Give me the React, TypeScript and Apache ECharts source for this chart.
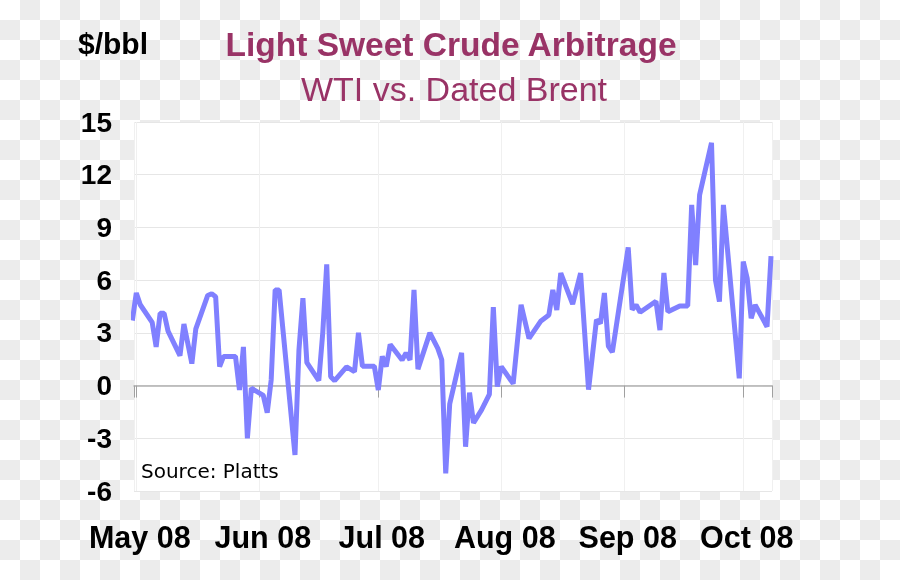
import React, { useEffect, useRef } from 'react';
import * as echarts from 'echarts';

// Trading dates (2008)
const dates: string[] = [
  '2008-04-30', '2008-05-01', '2008-05-02', '2008-05-05', '2008-05-06', '2008-05-07', '2008-05-08', '2008-05-09',
  '2008-05-12', '2008-05-13', '2008-05-15', '2008-05-16', '2008-05-19', '2008-05-20', '2008-05-21', '2008-05-22',
  '2008-05-23', '2008-05-26', '2008-05-27', '2008-05-28', '2008-05-29', '2008-05-30',
  '2008-06-02', '2008-06-03', '2008-06-04', '2008-06-05', '2008-06-06', '2008-06-10', '2008-06-11', '2008-06-12',
  '2008-06-13', '2008-06-16', '2008-06-17', '2008-06-18', '2008-06-19', '2008-06-20', '2008-06-23', '2008-06-25',
  '2008-06-26', '2008-06-27', '2008-06-30',
  '2008-07-01', '2008-07-02', '2008-07-03', '2008-07-04', '2008-07-07', '2008-07-08', '2008-07-09', '2008-07-10',
  '2008-07-11', '2008-07-14', '2008-07-16', '2008-07-17', '2008-07-18', '2008-07-19', '2008-07-22', '2008-07-23',
  '2008-07-24', '2008-07-25', '2008-07-27', '2008-07-29', '2008-07-30', '2008-07-31',
  '2008-08-01', '2008-08-04', '2008-08-06', '2008-08-08', '2008-08-11', '2008-08-13', '2008-08-14', '2008-08-15',
  '2008-08-16', '2008-08-19', '2008-08-21', '2008-08-23', '2008-08-25', '2008-08-26', '2008-08-27', '2008-08-28',
  '2008-08-29',
  '2008-09-02', '2008-09-03', '2008-09-04', '2008-09-05', '2008-09-09', '2008-09-10', '2008-09-11', '2008-09-12',
  '2008-09-15', '2008-09-17', '2008-09-18', '2008-09-19', '2008-09-20', '2008-09-23', '2008-09-24', '2008-09-25',
  '2008-09-26', '2008-09-30',
  '2008-10-01', '2008-10-02', '2008-10-03', '2008-10-04', '2008-10-07', '2008-10-08',
];

// WTI minus Dated Brent, $/bbl
const spread: number[] = [
  3.7, 5.27, 4.6, 3.6, 2.2, 4.12, 4.12, 3.1, 1.7, 3.5, 1.25, 3.23, 5.13, 5.23, 5.06, 1.08, 1.66, 1.66, -0.25, 2.2, -3.0, -0.15,
  -0.56, -1.54, 0.32, 5.44, 5.44, -3.95, 2.03, 4.97, 1.3, 0.28, 3.0, 6.9, 0.5, 0.28, 1.06, 0.79, 3.0, 1.1, 1.1,
  -0.25, 1.66, 1.08, 2.34, 1.46, 1.86, 1.46, 5.44, 0.93, 3.0, 2.12, 1.46, -5.0, -1.05, 1.86, -3.48, -0.4, -2.12, -1.4, -0.5, 4.47, -0.06,
  1.08, 0.11, 4.6, 2.69, 3.68, 4.02, 5.44, 4.3, 6.4, 4.64, 6.4, -0.23, 3.75, 3.53, 5.27, 2.25, 1.9,
  7.87, 4.32, 4.59, 4.17, 4.8, 3.16, 6.41, 4.2, 4.53, 4.53, 10.28, 6.86, 10.85, 13.82, 6.01, 4.78, 10.28, 0.41,
  7.05, 6.1, 3.83, 4.59, 3.35, 7.37,
];

const monthNames: string[] = ['Jan', 'Feb', 'Mar', 'Apr', 'May', 'Jun', 'Jul', 'Aug', 'Sep', 'Oct', 'Nov', 'Dec'];
const xStart = '2008-04-30 10:00';
const xEnd = '2008-10-08 06:00';
const yMin = -6;
const yMax = 15;
const yStep = 3;

const titleText = 'Light Sweet Crude Arbitrage';
const subtitleText = 'WTI vs. Dated Brent';
const unitText = '$/bbl';
const sourceText = 'Source: Platts';

const FONT = '"Liberation Sans", Arial, Helvetica, sans-serif';

export default function App() {
  const ref = useRef<HTMLDivElement>(null);

  useEffect(() => {
    if (!ref.current) return;
    const chart = echarts.init(ref.current, null, { renderer: 'svg' });
    const data = dates.map((d, i) => [d, spread[i]]);
    const DAY = 86400000;
    const xCommon: any = {
      type: 'time',
      min: xStart,
      max: xEnd,
      minInterval: 28 * DAY,
      maxInterval: 31 * DAY,
    };
    const monthFormatter = (val: number) => {
      const d = new Date(val);
      if (d.getDate() !== 1) return '';
      return monthNames[d.getMonth()] + ' ' + String(d.getFullYear()).slice(2);
    };

    chart.setOption({
      animation: false,
      textStyle: { fontFamily: FONT },
      grid: {
        left: 134,
        right: 128,
        top: 122,
        bottom: 89,
        show: true,
        backgroundColor: '#ffffff',
        borderWidth: 0,
      },
      graphic: [
        {
          type: 'text',
          x: 78,
          y: 43,
          style: { text: unitText, font: `bold 30px ${FONT}`, fill: '#000', textVerticalAlign: 'middle' },
        },
        {
          type: 'text',
          x: 451,
          y: 44,
          style: {
            text: titleText,
            font: `bold 33.5px ${FONT}`,
            fill: '#993366',
            textAlign: 'center',
            textVerticalAlign: 'middle',
          },
        },
        {
          type: 'text',
          x: 454,
          y: 89,
          style: {
            text: subtitleText,
            font: `34px ${FONT}`,
            fill: '#993366',
            textAlign: 'center',
            textVerticalAlign: 'middle',
          },
        },
        {
          type: 'text',
          x: 141,
          y: 471,
          z: 10,
          style: {
            text: sourceText,
            font: `20px "DejaVu Sans", sans-serif`,
            fill: '#000',
            textVerticalAlign: 'middle',
          },
        },
      ],
      xAxis: [
        {
          ...xCommon,
          position: 'bottom',
          axisLine: { onZero: true, lineStyle: { color: '#b0b0b0', width: 1.5 } },
          axisTick: { show: true, length: 12, lineStyle: { color: '#a0a0a0' } },
          axisLabel: { show: false },
          splitLine: { show: true, lineStyle: { color: '#f0f0f0', width: 1 } },
        },
        {
          ...xCommon,
          position: 'bottom',
          axisLine: { show: false, onZero: false },
          axisTick: { show: false },
          splitLine: { show: false },
          axisLabel: {
            formatter: monthFormatter,
            fontSize: 30.5,
            fontWeight: 'bold',
            color: '#000',
            margin: 30,
            padding: [0, 0, 0, 7],
            fontFamily: FONT,
            hideOverlap: false,
          },
        },
      ],
      yAxis: {
        type: 'value',
        min: yMin,
        max: yMax,
        interval: yStep,
        axisLine: { show: false },
        axisTick: { show: false },
        axisLabel: { fontSize: 28, fontWeight: 'bold', color: '#000', margin: 22, fontFamily: FONT },
        splitLine: { show: true, lineStyle: { color: '#e6e6e6', width: 1 } },
      },
      series: [
        {
          type: 'line',
          xAxisIndex: 0,
          data,
          showSymbol: false,
          symbol: 'none',
          lineStyle: { color: '#8080ff', width: 5 },
        },
      ],
    });
    return () => chart.dispose();
  }, []);

  return (
    <div
      style={{
        position: 'fixed',
        left: 0,
        top: 0,
        width: 900,
        height: 580,
        backgroundImage: 'repeating-conic-gradient(#ececec 0% 25%, #ffffff 0% 50%)',
        backgroundSize: '40px 40px',
        backgroundPosition: '0 0',
      }}
    >
      <div ref={ref} style={{ width: 900, height: 580 }} />
    </div>
  );
}
